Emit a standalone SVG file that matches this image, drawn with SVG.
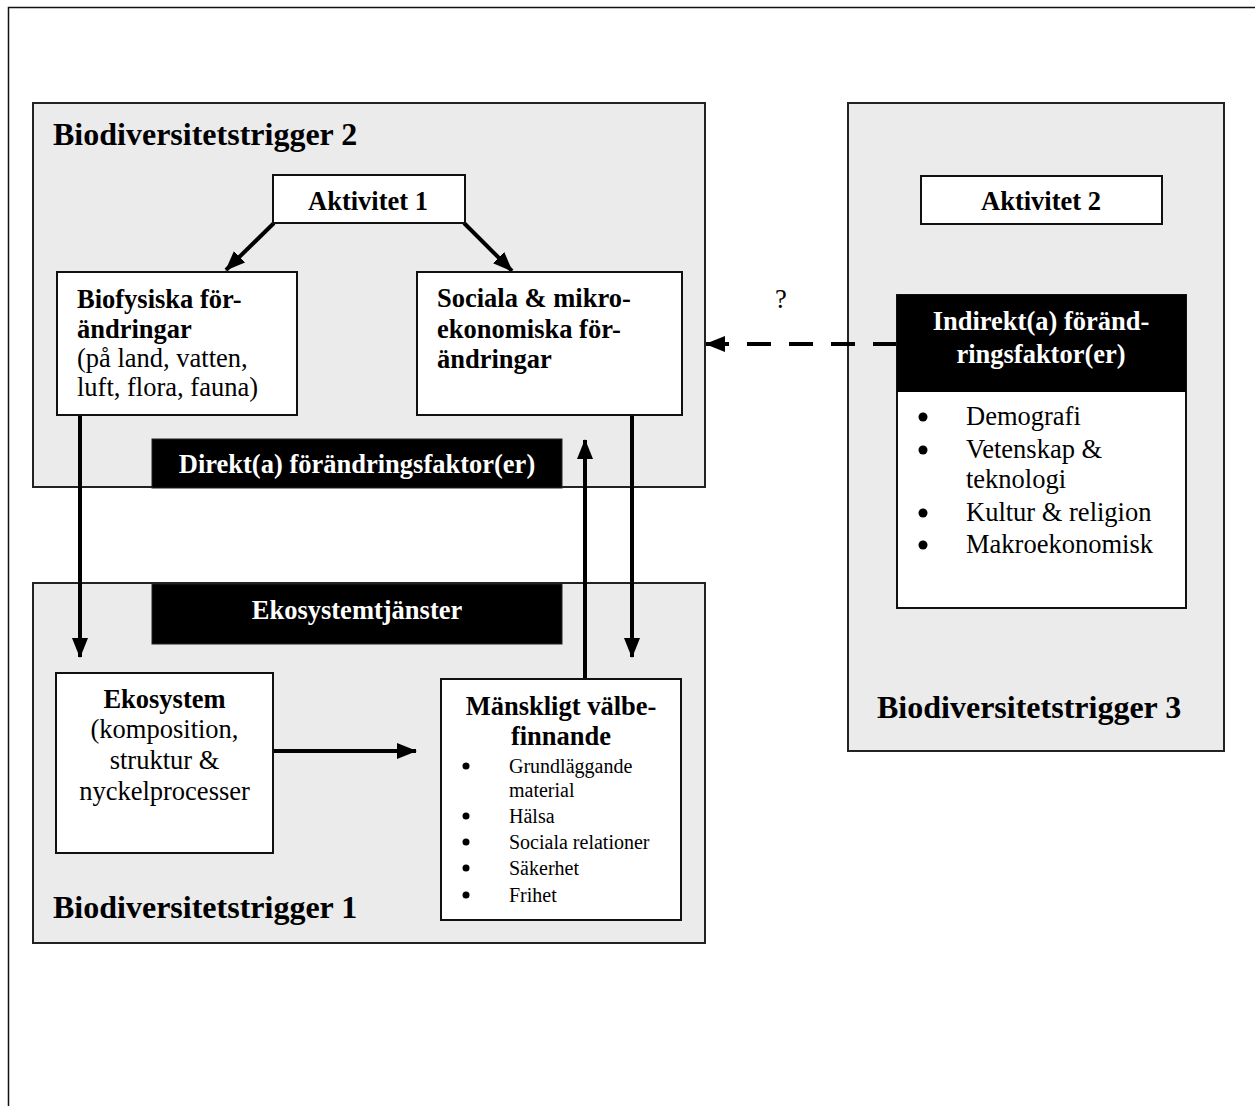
<svg xmlns="http://www.w3.org/2000/svg" width="1255" height="1106" viewBox="0 0 1255 1106">
  <style>
    text { font-family: "Liberation Serif", "Times New Roman", serif; fill: #000; }
    .zone { fill: #ebebeb; stroke: #222; stroke-width: 2; }
    .box { fill: #fff; stroke: #111; stroke-width: 2; }
    .bar { fill: #000; stroke: #222; stroke-width: 1; }
    .title { font-size: 32px; font-weight: bold; }
    .b { font-size: 26.5px; font-weight: bold; }
    .r { font-size: 26.5px; }
    .s { font-size: 20px; }
    .w { fill: #fff; }
    .c { text-anchor: middle; }
    .link { fill: none; stroke: #000; stroke-width: 4; }
    .dash { stroke-dasharray: 24 18; }
  </style>
  <defs>
    <marker id="head" markerUnits="userSpaceOnUse" viewBox="0 0 20 16" markerWidth="20" markerHeight="16" refX="19" refY="8" orient="auto">
      <path d="M0,0 L20,8 L0,16 z" fill="#000"/>
    </marker>
  </defs>

  <!-- page frame -->
  <path d="M8.5,1106 V7.5 H1255" fill="none" stroke="#111" stroke-width="1.5"/>

  <!-- trigger zones -->
  <g id="trigger2">
    <rect class="zone" x="33" y="103" width="672" height="384"/>
    <text class="title" x="53" y="145">Biodiversitetstrigger 2</text>
  </g>
  <g id="trigger1">
    <rect class="zone" x="33" y="583" width="672" height="360"/>
    <text class="title" x="53" y="918">Biodiversitetstrigger 1</text>
  </g>
  <g id="trigger3">
    <rect class="zone" x="848" y="103" width="376" height="648"/>
    <text class="title" x="877" y="718">Biodiversitetstrigger 3</text>
  </g>

  <!-- connectors -->
  <g id="connectors">
    <line class="link" x1="274" y1="223" x2="226" y2="270" marker-end="url(#head)"/>
    <line class="link" x1="464" y1="223" x2="512" y2="271" marker-end="url(#head)"/>
    <line class="link" x1="80" y1="415" x2="80" y2="657" marker-end="url(#head)"/>
    <line class="link" x1="632" y1="415" x2="632" y2="657" marker-end="url(#head)"/>
    <line class="link" x1="585" y1="679" x2="585" y2="440" marker-end="url(#head)"/>
    <line class="link" x1="273" y1="751" x2="416" y2="751" marker-end="url(#head)"/>
    <line class="link dash" x1="897" y1="344" x2="706" y2="344" marker-end="url(#head)"/>
    <text class="r c" x="781" y="308">?</text>
  </g>

  <g id="aktivitet1">
    <rect class="box" x="273" y="175" width="192" height="48"/>
    <text class="b c" x="368" y="210">Aktivitet 1</text>
  </g>

  <g id="biofysiska">
    <rect class="box" x="57" y="272" width="240" height="143"/>
    <text class="b" x="77" y="308">Biofysiska för-</text>
    <text class="b" x="77" y="338">ändringar</text>
    <text class="r" x="77" y="367">(på land, vatten,</text>
    <text class="r" x="77" y="396">luft, flora, fauna)</text>
  </g>

  <g id="sociala">
    <rect class="box" x="417" y="272" width="265" height="143"/>
    <text class="b" x="437" y="307">Sociala &amp; mikro-</text>
    <text class="b" x="437" y="338">ekonomiska för-</text>
    <text class="b" x="437" y="368">ändringar</text>
  </g>

  <g id="direkta">
    <rect class="bar" x="152" y="439" width="410" height="49"/>
    <text class="b c w" x="357" y="473">Direkt(a) förändringsfaktor(er)</text>
  </g>

  <g id="ekosystemtjanster">
    <rect class="bar" x="152" y="584" width="410" height="60"/>
    <text class="b c w" x="357" y="619">Ekosystemtjänster</text>
  </g>

  <g id="ekosystem">
    <rect class="box" x="56" y="673" width="217" height="180"/>
    <text class="b c" x="164.5" y="708">Ekosystem</text>
    <text class="r c" x="164.5" y="738">(komposition,</text>
    <text class="r c" x="164.5" y="769">struktur &amp;</text>
    <text class="r c" x="164.5" y="800">nyckelprocesser</text>
  </g>

  <g id="valbefinnande">
    <rect class="box" x="441" y="679" width="240" height="241"/>
    <text class="b c" x="561" y="715">Mänskligt välbe-</text>
    <text class="b c" x="561" y="745">finnande</text>
    <circle cx="466" cy="766" r="3.5"/>
    <text class="s" x="509" y="773">Grundläggande</text>
    <text class="s" x="509" y="797">material</text>
    <circle cx="466" cy="816" r="3.5"/>
    <text class="s" x="509" y="823">Hälsa</text>
    <circle cx="466" cy="842" r="3.5"/>
    <text class="s" x="509" y="849">Sociala relationer</text>
    <circle cx="466" cy="868" r="3.5"/>
    <text class="s" x="509" y="875">Säkerhet</text>
    <circle cx="466" cy="895" r="3.5"/>
    <text class="s" x="509" y="902">Frihet</text>
  </g>

  <g id="aktivitet2">
    <rect class="box" x="921" y="176" width="241" height="48"/>
    <text class="b c" x="1041" y="210">Aktivitet 2</text>
  </g>

  <g id="indirekta">
    <rect class="box" x="897" y="295" width="289" height="313"/>
    <rect x="897" y="295" width="289" height="97" fill="#000"/>
    <text class="b c w" x="1041" y="330">Indirekt(a) föränd-</text>
    <text class="b c w" x="1041" y="363">ringsfaktor(er)</text>
    <circle cx="923" cy="417" r="4.5"/>
    <text class="r" x="966" y="425">Demografi</text>
    <circle cx="923" cy="450" r="4.5"/>
    <text class="r" x="966" y="458">Vetenskap &amp;</text>
    <text class="r" x="966" y="488">teknologi</text>
    <circle cx="923" cy="513" r="4.5"/>
    <text class="r" x="966" y="521">Kultur &amp; religion</text>
    <circle cx="923" cy="545" r="4.5"/>
    <text class="r" x="966" y="553">Makroekonomisk</text>
  </g>
</svg>
